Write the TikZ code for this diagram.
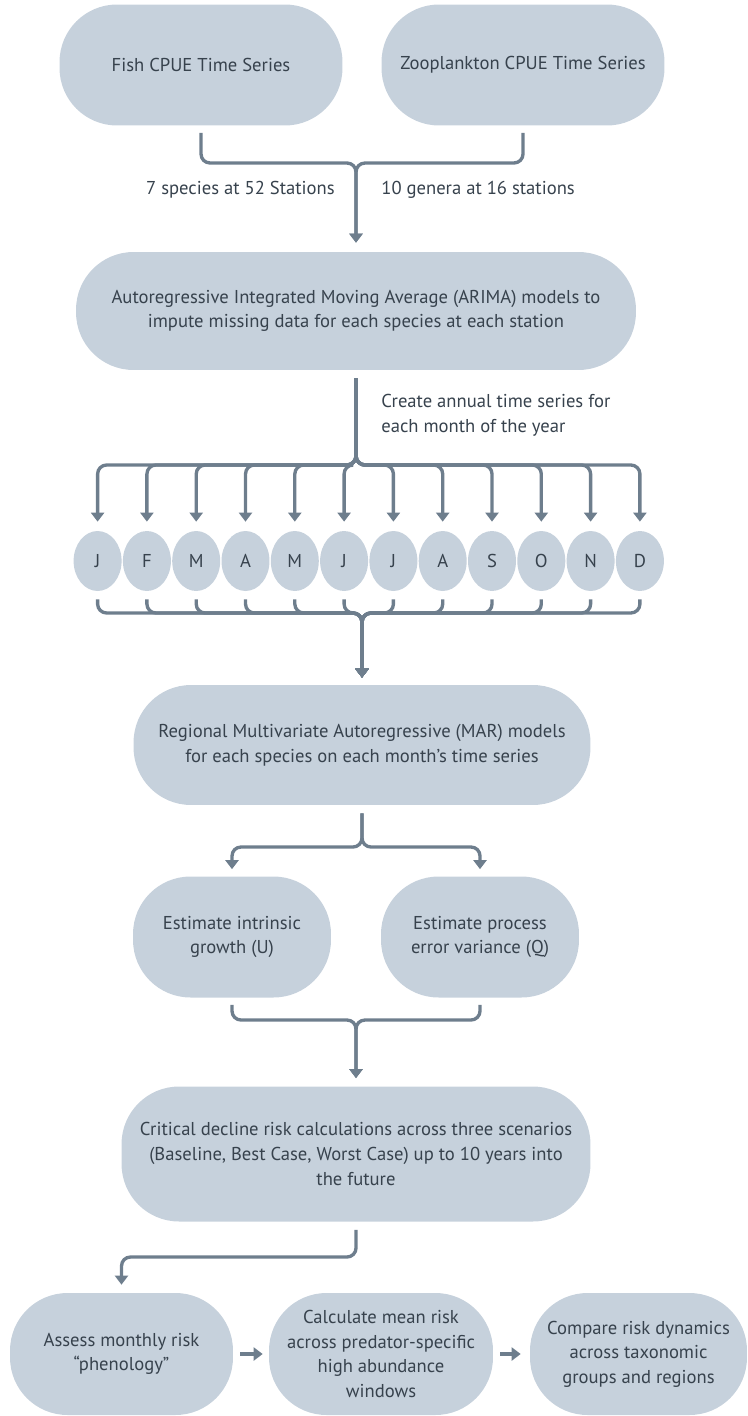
\documentclass[tikz,border=0pt]{standalone}
\usepackage{fontspec}
\setmainfont{PT Sans}
\usepackage{tikz}
\usetikzlibrary{shapes.geometric,arrows.meta}
\definecolor{boxfill}{RGB}{198,209,220}
\definecolor{linecol}{RGB}{110,126,141}
\definecolor{textcol}{RGB}{55,66,77}
\tikzstyle{box} = [fill=boxfill, rounded corners=1.15cm, text=textcol, align=center, font={\fontsize{10.6pt}{14pt}\selectfont}, inner sep=0pt]
\tikzstyle{month} = [fill=boxfill, ellipse, minimum width=0.96cm, minimum height=1.2cm, inner sep=0pt, text=textcol, font={\fontsize{10.6pt}{12pt}\selectfont}]
\tikzstyle{conn} = [draw=linecol, line width=1.9pt, rounded corners=0.18cm, -{Triangle[width=0.26cm,length=0.18cm]}]
\tikzstyle{note} = [text=textcol, align=left, font={\fontsize{10.6pt}{14pt}\selectfont}, inner sep=0pt]

\begin{document}
\begin{tikzpicture}[x=0.02cm, y=-0.02cm]
    \useasboundingbox (0,0) rectangle (747,1416);
    % data sources
    \node[box, minimum width=5.66cm, minimum height=2.42cm](fish) at (201,65){Fish CPUE Time Series};
    \node[box, minimum width=5.66cm, minimum height=2.42cm](zoo) at (523,65){Zooplankton CPUE Time Series};
    \node[box, minimum width=11.2cm, minimum height=2.36cm](arima) at (356,311){Autoregressive Integrated Moving Average (ARIMA) models to\\impute missing data for each species at each station};
    \node[note, anchor=east](nfish) at (335,190){7 species at 52 Stations};
    \node[note, anchor=west](nzoo) at (381,190){10 genera at 16 stations};
    \coordinate (j1) at (356,163);
    \draw[conn, shorten <=0.14cm, shorten >=0.18cm](fish.south) |- (j1) -- (arima.north);
    \draw[conn, shorten <=0.14cm, shorten >=0.18cm](zoo.south) |- (j1) -- (arima.north);
    % months
    \node[box, minimum width=9.14cm, minimum height=2.4cm](mar) at (362,745){Regional Multivariate Autoregressive (MAR) models\\for each species on each month's time series};
    \node[note, anchor=west](nmonth) at (381,415){Create annual time series for\\each month of the year};
    \coordinate (j2) at (356,465);
    \coordinate (j3) at (362,613);
    \foreach \m [count=\i] in {J,F,M,A,M,J,J,A,S,O,N,D}{
      \node[month](m\i) at ({97.6+49.3*(\i-1)},561){\m};
      \draw[conn, shorten <=0.16cm, shorten >=0.18cm](arima.south) -- (j2) -| (m\i.north);
      \draw[conn, shorten <=0.16cm, shorten >=0.14cm](m\i.south) |- (j3) -- (mar.north);
    }
    % parameters
    \node[box, minimum width=3.96cm, minimum height=2.42cm](grow) at (232,937){Estimate intrinsic\\growth (U)};
    \node[box, minimum width=3.96cm, minimum height=2.42cm](var) at (480,937){Estimate process\\error variance (Q)};
    \coordinate (j4) at (362,847);
    \draw[conn, shorten <=0.16cm, shorten >=0.14cm](mar.south) -- (j4) -| (grow.north);
    \draw[conn, shorten <=0.16cm, shorten >=0.14cm](mar.south) -- (j4) -| (var.north);
    \node[box, minimum width=9.38cm, minimum height=2.7cm](crit) at (356,1154){Critical decline risk calculations across three scenarios\\(Baseline, Best Case, Worst Case) up to 10 years into\\the future};
    \coordinate (j5) at (356,1020);
    \draw[conn, shorten <=0.14cm, shorten >=0.16cm](grow.south) |- (j5) -- (crit.north);
    \draw[conn, shorten <=0.14cm, shorten >=0.16cm](var.south) |- (j5) -- (crit.north);
    % outputs
    \node[box, minimum width=4.46cm, minimum height=2.44cm](assess) at (121.5,1354){Assess monthly risk\\``phenology''};
    \node[box, minimum width=4.48cm, minimum height=2.44cm](mean) at (381,1354){Calculate mean risk\\across predator-specific\\high abundance\\windows};
    \node[box, minimum width=4.34cm, minimum height=2.44cm](comp) at (638.5,1354){Compare risk dynamics\\across taxonomic\\groups and regions};
    \coordinate (j6) at (356,1257);
    \draw[conn, shorten <=0.16cm, shorten >=0.16cm](crit.south) -- (j6) -| (assess.north);
    \draw[conn, shorten <=0.14cm, shorten >=0.12cm](assess) -- (mean);
    \draw[conn, shorten <=0.14cm, shorten >=0.18cm](mean) -- (comp);
  \end{tikzpicture}
\end{document}
